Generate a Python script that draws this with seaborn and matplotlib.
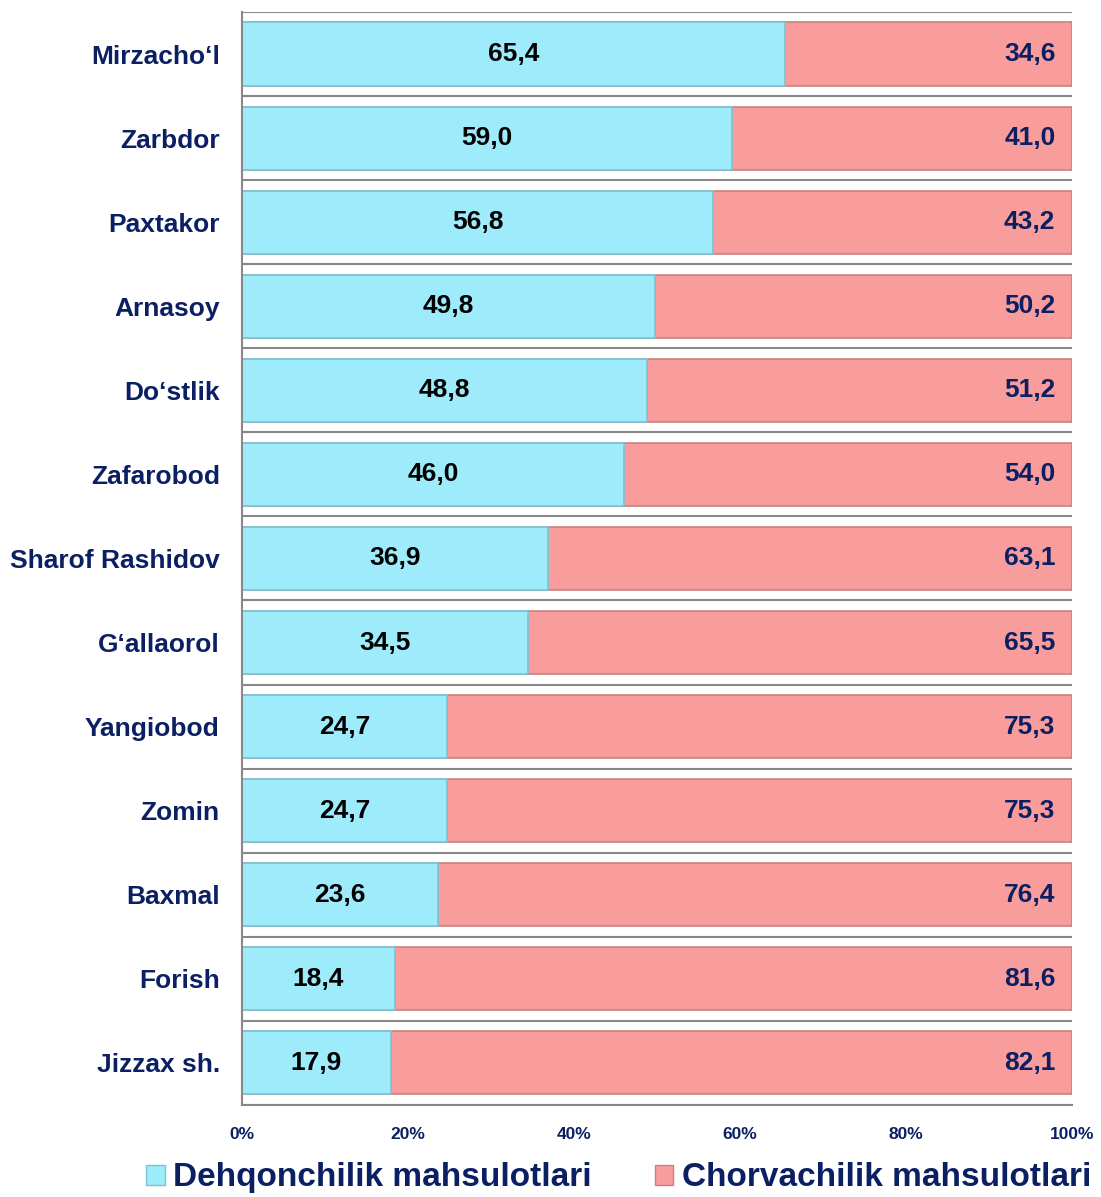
import numpy as np
import pandas as pd
import matplotlib.pyplot as plt
import seaborn as sns
from matplotlib.patches import Patch

districts = ["Mirzacho‘l", "Zarbdor", "Paxtakor", "Arnasoy", "Do‘stlik", "Zafarobod",
             "Sharof Rashidov", "G‘allaorol", "Yangiobod", "Zomin", "Baxmal", "Forish",
             "Jizzax sh."]
dehqon = [65.4, 59.0, 56.8, 49.8, 48.8, 46.0, 36.9, 34.5, 24.7, 24.7, 23.6, 18.4, 17.9]
chorva = [34.6, 41.0, 43.2, 50.2, 51.2, 54.0, 63.1, 65.5, 75.3, 75.3, 76.4, 81.6, 82.1]
series_names = ["Dehqonchilik mahsulotlari", "Chorvachilik mahsulotlari"]

navy = "#0b1f63"
blue = "#9eecfb"
red = "#f99d9c"

sns.set_style("white")
plt.rcParams['font.family'] = ['Liberation Sans', 'DejaVu Sans']
plt.rcParams['font.weight'] = 'bold'

df = pd.DataFrame({"district": districts, "dehqon": dehqon, "chorva": chorva})
df["total"] = df["dehqon"] + df["chorva"]

fig = plt.figure(figsize=(11.01, 11.97), dpi=100)
ax = fig.add_axes([0.2198, 0.0769, 0.7539, 0.9131])

# red = full stack, blue drawn on top
sns.barplot(data=df, y="district", x="total", color=red, orient="h", width=0.75,
            saturation=1, edgecolor="#c98080", linewidth=1.2, ax=ax)
sns.barplot(data=df, y="district", x="dehqon", color=blue, orient="h", width=0.75,
            saturation=1, edgecolor="#78c4d4", linewidth=1.2, ax=ax)

for i, (d, c) in enumerate(zip(dehqon, chorva)):
    ax.text(d / 2, i, f"{d:.1f}".replace(".", ","), ha="center", va="center",
            fontsize=19, fontweight="bold", color="black")
    ax.text(98, i, f"{c:.1f}".replace(".", ","), ha="right", va="center",
            fontsize=19, fontweight="bold", color=navy)

ax.set_xlim(0, 100)
ax.set_ylim(len(districts) - 0.5, -0.5)
ax.set_xticks(np.arange(0, 101, 20))
ax.set_xticklabels([f"{v}%" for v in range(0, 101, 20)], fontsize=12.5,
                   fontweight="bold", color=navy)
ax.set_yticks(np.arange(len(districts)))
ax.set_yticklabels(districts, fontsize=19, fontweight="bold", color=navy)
ax.set_yticks(np.arange(-0.5, len(districts)), minor=True)
ax.tick_params(axis="y", which="major", length=0, pad=16)
ax.tick_params(axis="y", which="minor", length=8, color="#888888", width=1.5)
ax.tick_params(axis="x", length=6, color="#888888", width=1.5, pad=10)
ax.grid(which="minor", axis="y", color="#888888", linewidth=1.5)
ax.set_axisbelow(True)
ax.set_xlabel("")
ax.set_ylabel("")
for s in ["top", "right"]:
    ax.spines[s].set_visible(False)
for s in ["left", "bottom"]:
    ax.spines[s].set_color("#888888")
    ax.spines[s].set_linewidth(1.5)

handles = [Patch(facecolor=blue, edgecolor="#78c4d4"), Patch(facecolor=red, edgecolor="#c98080")]
leg = fig.legend(handles, series_names, loc="lower center", bbox_to_anchor=(0.562, -0.022),
                 ncol=2, frameon=False, fontsize=24, handlelength=0.55, handleheight=0.55,
                 handletextpad=0.25, columnspacing=1.9)
for t in leg.get_texts():
    t.set_color(navy)
    t.set_fontweight("bold")

fig.savefig("out.png", dpi=100)
